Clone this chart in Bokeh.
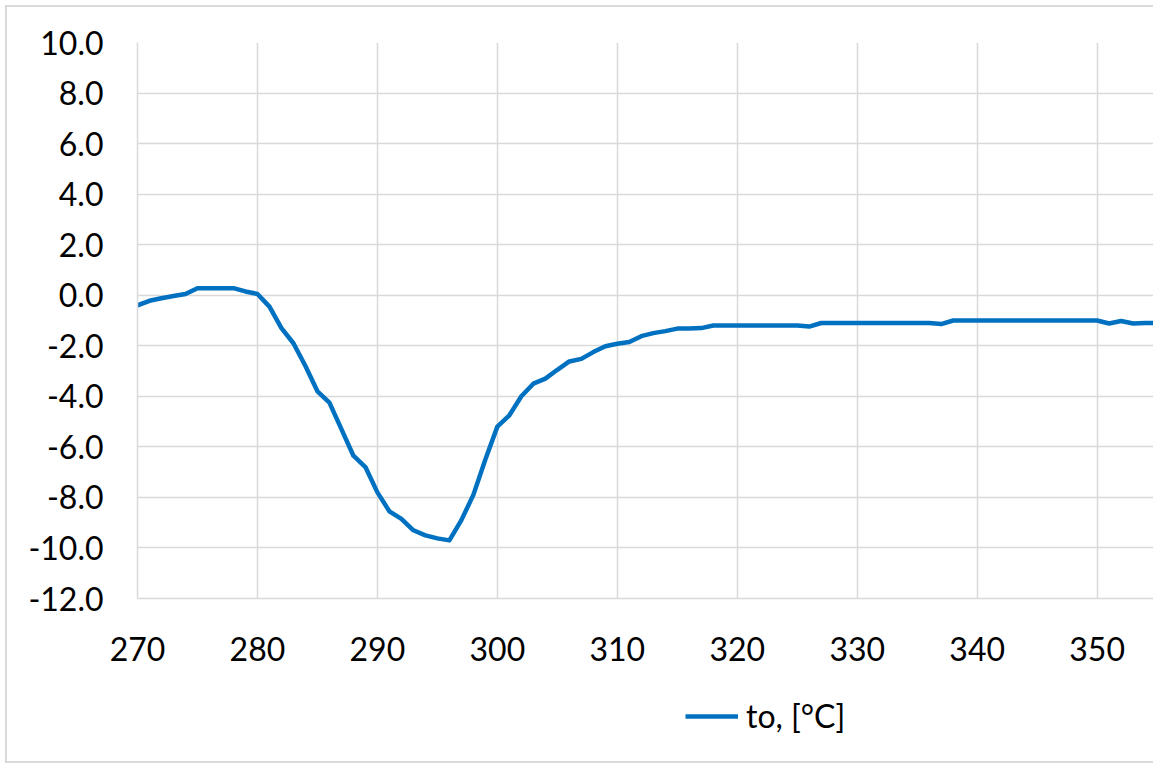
from bokeh.plotting import figure
from bokeh.layouts import column
from bokeh.models import Range1d, FixedTicker, Legend, LegendItem, CustomJSTickFormatter
from bokeh.embed import file_html
from bokeh.resources import INLINE

temp = [270, 271, 272, 273, 274, 275, 276, 277, 278, 279,
        280, 281, 282, 283, 284, 285, 286, 287, 288, 289,
        290, 291, 292, 293, 294, 295, 296, 297, 298, 299,
        300, 301, 302, 303, 304, 305, 306, 307, 308, 309,
        310, 311, 312, 313, 314, 315, 316, 317, 318, 320,
        322, 324, 325, 326, 327, 330, 333, 336, 337, 338,
        340, 343, 346, 349, 350, 351, 352, 353, 354, 355]
values = [-0.40, -0.22, -0.12, -0.03, 0.05, 0.28, 0.28, 0.28, 0.28, 0.15,
          0.05, -0.45, -1.30, -1.90, -2.80, -3.80, -4.25, -5.30, -6.35, -6.80,
          -7.80, -8.55, -8.85, -9.30, -9.50, -9.62, -9.70, -8.90, -7.90, -6.50,
          -5.20, -4.75, -4.00, -3.50, -3.30, -2.95, -2.62, -2.52, -2.25, -2.02,
          -1.92, -1.85, -1.62, -1.50, -1.42, -1.32, -1.32, -1.30, -1.20, -1.20,
          -1.20, -1.20, -1.20, -1.24, -1.10, -1.10, -1.10, -1.10, -1.14, -1.00,
          -1.00, -1.00, -1.00, -1.00, -1.00, -1.12, -1.02, -1.12, -1.10, -1.10]

x_ticks = [270, 280, 290, 300, 310, 320, 330, 340, 350]
y_ticks = [-12, -10, -8, -6, -4, -2, 0, 2, 4, 6, 8, 10]
series_name = "to, [°C]"

FONT = "Lato"
GRID = "#d9d9d9"
LINE = "#0070C0"

p = figure(width=1153, height=690, output_backend="svg", toolbar_location=None,
           x_range=Range1d(270, 354.7), y_range=Range1d(-12, 10),
           min_border_left=137, min_border_right=0, min_border_top=42, min_border_bottom=92)

p.outline_line_color = None
p.background_fill_color = "white"
p.border_fill_alpha = 0

r = p.line(temp, values, line_color=LINE, line_width=4.5, line_join="round", line_cap="round")

for ax in (p.xaxis[0], p.yaxis[0]):
    ax.major_tick_line_color = None
    ax.minor_tick_line_color = None
    ax.major_tick_out = 0
    ax.major_tick_in = 0
    ax.axis_line_color = GRID
    ax.axis_line_width = 1.5
    ax.major_label_text_font = FONT
    ax.major_label_text_font_size = "32px"
    ax.major_label_text_color = "#000000"

p.xaxis[0].ticker = FixedTicker(ticks=x_ticks)
p.yaxis[0].ticker = FixedTicker(ticks=y_ticks)
p.yaxis[0].formatter = CustomJSTickFormatter(code="return tick.toFixed(1);")
p.xaxis[0].major_label_standoff = 38
p.yaxis[0].major_label_standoff = 34

p.xgrid.ticker = FixedTicker(ticks=x_ticks)
p.ygrid.ticker = FixedTicker(ticks=y_ticks)
p.xgrid.grid_line_color = GRID
p.ygrid.grid_line_color = GRID
p.xgrid.grid_line_width = 1.5
p.ygrid.grid_line_width = 1.5

# legend strip below the chart (its frame is aligned with the main frame)
p2 = figure(width=1153, height=74, output_backend="svg", toolbar_location=None,
            x_range=Range1d(0, 1), y_range=Range1d(0, 1),
            x_axis_type=None, y_axis_type=None,
            min_border_left=0, min_border_right=0, min_border_top=0, min_border_bottom=0)
p2.outline_line_color = None
p2.background_fill_alpha = 0
p2.border_fill_alpha = 0
p2.xgrid.visible = False
p2.ygrid.visible = False
# same series, outside this strip's view; only used for its legend swatch
r2 = p2.line(temp, values, line_color=LINE, line_width=4.5)

legend = Legend(items=[LegendItem(label=series_name, renderers=[r2])],
                location=(548, 29), orientation="horizontal",
                label_text_font=FONT, label_text_font_size="32px",
                label_text_color="#000000",
                glyph_width=53, glyph_height=30, padding=0, margin=0,
                label_standoff=8, border_line_color=None,
                background_fill_alpha=0)
p2.add_layout(legend)

layout = column(p, p2, spacing=0)
layout.styles = {
    "background": (
        "linear-gradient(#d9d9d9,#d9d9d9) 5px 5px / 2px 758px no-repeat, "
        "linear-gradient(#d9d9d9,#d9d9d9) 5px 5px / 1148px 2px no-repeat, "
        "linear-gradient(#d9d9d9,#d9d9d9) 5px 761px / 1148px 2px no-repeat, white"
    )
}

open("out.html", "w").write(file_html(layout, INLINE))
